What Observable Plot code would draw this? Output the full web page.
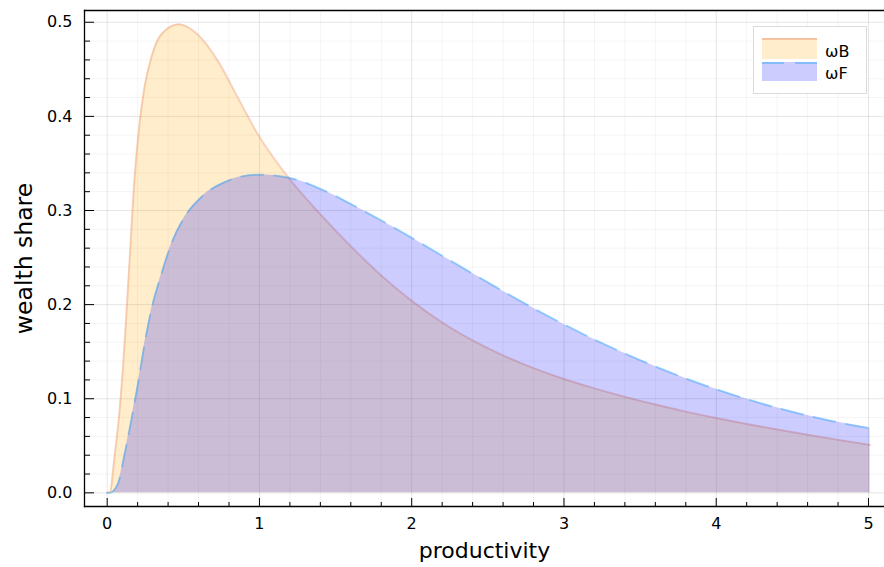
<!DOCTYPE html>
<html>
<head>
<meta charset="utf-8">
<script src="https://cdn.jsdelivr.net/npm/d3@7"></script>
<script src="https://cdn.jsdelivr.net/npm/@observablehq/plot@0.6"></script>
<style>
  html, body { margin: 0; padding: 0; background: white; }
  #wrap { position: relative; width: 884px; height: 567px; }
  #legend { position: absolute; left: 753px; top: 26px; }
</style>
</head>
<body>
<div id="wrap"></div>
<script>
// ---- data ----
const xB = [0, 0.016, 0.048, 0.081, 0.114, 0.147, 0.18, 0.212, 0.245, 0.289, 0.355, 0.47, 0.595, 0.727, 0.858, 0.99, 1.2, 1.4, 1.6, 1.8, 2.0, 2.2, 2.4, 2.6, 2.8, 3.0, 3.2, 3.4, 3.6, 3.8, 4.0, 4.2, 4.4, 4.6, 4.8, 5.01];
const wB = [0, 0, 0.038, 0.087, 0.158, 0.247, 0.335, 0.392, 0.431, 0.462, 0.487, 0.498, 0.487, 0.459, 0.420, 0.381, 0.333, 0.296, 0.262, 0.231, 0.204, 0.181, 0.162, 0.146, 0.1325, 0.121, 0.111, 0.102, 0.0938, 0.0863, 0.0795, 0.0732, 0.0673, 0.0617, 0.0563, 0.0508];
const xF = [0, 0.016, 0.07, 0.114, 0.158, 0.202, 0.245, 0.289, 0.355, 0.42, 0.508, 0.617, 0.77, 0.99, 1.2, 1.4, 1.6, 1.8, 2.0, 2.2, 2.4, 2.6, 2.8, 3.0, 3.2, 3.4, 3.6, 3.8, 4.0, 4.2, 4.4, 4.6, 4.8, 5.01];
const wF = [0, 0, 0.0095, 0.041, 0.077, 0.116, 0.158, 0.194, 0.232, 0.264, 0.293, 0.314, 0.330, 0.338, 0.3345, 0.323, 0.307, 0.2895, 0.271, 0.252, 0.233, 0.2143, 0.1961, 0.179, 0.163, 0.1481, 0.1343, 0.1216, 0.110, 0.0996, 0.0903, 0.0821, 0.0749, 0.0687];

const seriesNames = ["ωB", "ωF"];
const xTicks = [0, 1, 2, 3, 4, 5];
const yTicks = [0, 0.1, 0.2, 0.3, 0.4, 0.5];
const xMinor = [0.2,0.4,0.6,0.8,1.2,1.4,1.6,1.8,2.2,2.4,2.6,2.8,3.2,3.4,3.6,3.8,4.2,4.4,4.6,4.8];
const yMinor = [0.02,0.04,0.06,0.08,0.12,0.14,0.16,0.18,0.22,0.24,0.26,0.28,0.32,0.34,0.36,0.38,0.42,0.44,0.46,0.48];
const xDomain = [-0.149, 5.105];
const yDomain = [-0.0145, 0.5125];

const dataB = xB.map((x, i) => ({x, y: wB[i]}));
const dataF = xF.map((x, i) => ({x, y: wF[i]}));

const curve = "monotone-x";
const font = "DejaVu Sans";

const chart = Plot.plot({
  width: 884,
  height: 567,
  marginLeft: 84,
  marginRight: 0,
  marginTop: 10,
  marginBottom: 61,
  style: {fontFamily: font, fontSize: "16px", color: "#000", background: "white"},
  x: {domain: xDomain},
  y: {domain: yDomain},
  marks: [
    Plot.gridX(xMinor, {stroke: "#000", strokeOpacity: 0.045}),
    Plot.gridY(yMinor, {stroke: "#000", strokeOpacity: 0.045}),
    Plot.gridX(xTicks, {stroke: "#000", strokeOpacity: 0.1}),
    Plot.gridY(yTicks, {stroke: "#000", strokeOpacity: 0.1}),
    Plot.areaY(dataB, {x: "x", y: "y", fill: "#FFA500", fillOpacity: 0.2, curve}),
    Plot.lineY(dataB, {x: "x", y: "y", stroke: "#E36F47", strokeOpacity: 0.28, strokeWidth: 2, curve}),
    Plot.areaY(dataF, {x: "x", y: "y", fill: "#0000FF", fillOpacity: 0.2, curve}),
    Plot.lineY(dataF, {x: "x", y: "y", stroke: "#009AFA", strokeOpacity: 0.35, strokeWidth: 2, strokeDasharray: "22,11", curve}),
    Plot.axisX(xTicks, {tickSize: 0, tickPadding: 11, tickFormat: d => String(d), label: null, fontSize: 16}),
    Plot.axisX(xTicks, {tickSize: -8, tickFormat: () => "", label: null}),
    Plot.axisX(xMinor, {tickSize: -4, tickFormat: () => "", label: null}),
    Plot.axisY(yTicks, {tickSize: 0, tickPadding: 12, tickFormat: d3.format(".1f"), label: null, fontSize: 16}),
    Plot.axisY(yTicks, {tickSize: -10, tickFormat: () => "", label: null}),
    Plot.axisY(yMinor, {tickSize: -6, tickFormat: () => "", label: null}),
    Plot.frame({anchor: "left", strokeWidth: 1.3}),
    Plot.frame({anchor: "bottom", strokeWidth: 1.3}),
    Plot.frame({anchor: "top", strokeWidth: 1.3}),
    Plot.text(["productivity"], {frameAnchor: "bottom", dy: 36, lineAnchor: "top", textAnchor: "middle", fontSize: 22, text: d => d}),
    Plot.text(["wealth share"], {frameAnchor: "left", dx: -60, rotate: -90, textAnchor: "middle", lineAnchor: "middle", fontSize: 23.5, text: d => d})
  ]
});

const wrap = document.getElementById("wrap");
wrap.appendChild(chart);

// legend (inside the plot area, top right)
const leg = d3.create("svg").attr("id", "legend").attr("width", 114).attr("height", 68)
  .style("font-family", font);
leg.append("rect").attr("x", 0.5).attr("y", 0.5).attr("width", 113).attr("height", 67)
  .attr("fill", "white").attr("stroke", "#dcdcdc");
const sw = [
  {fill: "#FFA500", stroke: "#E36F47", dash: null, y: 12, h: 21},
  {fill: "#0000FF", stroke: "#009AFA", dash: "22,11", y: 36, h: 19}
];
sw.forEach((s, i) => {
  leg.append("rect").attr("x", 9).attr("y", s.y).attr("width", 55).attr("height", s.h)
    .attr("fill", s.fill).attr("fill-opacity", 0.2);
  leg.append("line").attr("x1", 9).attr("x2", 64).attr("y1", s.y + 1).attr("y2", s.y + 1)
    .attr("stroke", s.stroke).attr("stroke-opacity", 0.35).attr("stroke-width", 2)
    .attr("stroke-dasharray", s.dash);
  leg.append("text").attr("x", 72).attr("y", s.y + 19 - (i ? 2 : 0))
    .attr("font-size", 16).attr("fill", "#000").text(seriesNames[i]);
});
wrap.appendChild(leg.node());
</script>
</body>
</html>
